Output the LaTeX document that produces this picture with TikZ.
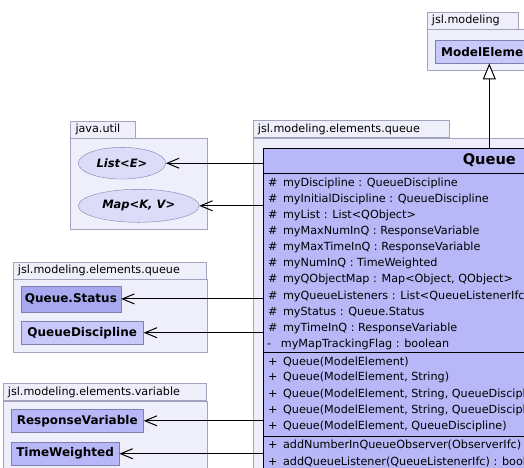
\documentclass[tikz,border=0pt]{standalone}
\usepackage{fontspec}
\setmainfont{DejaVu Sans}
\usetikzlibrary{arrows.meta,positioning,shapes.geometric}

\definecolor{pkgfill}{HTML}{EFEFFB}
\definecolor{pkgline}{HTML}{A3A3BE}
\definecolor{clsfill}{HTML}{C8C8FA}
\definecolor{clsmid}{HTML}{B8B8F8}
\definecolor{clsdark}{HTML}{A8A8F0}
\definecolor{clsline}{HTML}{8080B0}
\definecolor{ifcfill}{HTML}{DCDCF8}

\begin{document}
\begin{tikzpicture}[x=1pt,y=-1pt,
    pkg/.style={draw=pkgline,fill=pkgfill},
    pkgtab/.style={pkg,anchor=south west,inner xsep=5pt,inner ysep=0pt,minimum height=17pt,font=\fontsize{11.2}{13}\selectfont},
    cls/.style={draw=clsline,fill=clsfill,anchor=west,minimum height=23pt,inner xsep=2pt,font=\fontsize{12}{14}\selectfont\bfseries},
    ifc/.style={ellipse,draw=clsline,fill=ifcfill,inner sep=0pt,font=\fontsize{11.5}{13}\selectfont\bfseries\itshape},
    row/.style={anchor=west,inner sep=0pt,font=\fontsize{11.2}{13}\selectfont},
    dep/.style={-{Straight Barb[length=12pt,width=10pt]},line width=1pt},
    gen/.style={-{Triangle[length=16pt,width=13pt,fill=white]},line width=1pt}]
                            % \draw[help lines] (0,0) grid (524,467);
                            \useasboundingbox (0,0) rectangle (524,467);
                            \clip (0,0) rectangle (524,467);

                            % packages
                            \node[pkgtab,text width=81.3pt]  (pmodeling) at (426.7,29)   {jsl.modeling};
                            \draw[pkg] (426.7,29) rectangle (540,70);
                            \node[pkgtab,text width=186.3pt] (pqueue)    at (252.7,137.7) {jsl.modeling.elements.queue};
                            \draw[pkg] (252.7,137.7) rectangle (540,480);
                            \node[pkgtab,text width=54.7pt]  (putil)     at (70.3,138.3)  {java.util};
                            \draw[pkg] (70.3,138.3) rectangle (206.7,229.3);
                            \node[pkgtab,text width=183pt]   (pqueuetwo) at (12.7,279.3)  {jsl.modeling.elements.queue};
                            \draw[pkg] (12.7,279.3) rectangle (206.7,351.7);
                            \node[pkgtab,text width=193pt]   (pvariable) at (2.7,400.7)   {jsl.modeling.elements.variable};
                            \draw[pkg] (2.7,400.7) rectangle (206.7,480);

                            % the Queue class
                            \node[draw,fill=clsmid,line width=1pt,anchor=north west,minimum width=452pt,minimum height=330pt] (queue) at (263.3,147.7) {};
                            \node[font=\fontsize{14.6}{16}\selectfont\bfseries] (qname) at (489.3,160.5) {Queue};
                            \draw[line width=1pt] (263.3,173.3) -- +(452,0);
                            \draw[line width=1pt] (263.3,352.3) -- +(452,0);
                            \draw[line width=1pt] (263.3,436.7) -- +(452,0);

                            \node[row] (a1)  at (268,183.3) {\#\hspace{5.5pt}myDiscipline : QueueDiscipline};
                            \node[row] (a2)  at (268,199.4) {\#\hspace{5.5pt}myInitialDiscipline : QueueDiscipline};
                            \node[row] (a3)  at (268,215.5) {\#\hspace{5.5pt}myList : List<QObject>};
                            \node[row] (a4)  at (268,231.6) {\#\hspace{5.5pt}myMaxNumInQ : ResponseVariable};
                            \node[row] (a5)  at (268,247.7) {\#\hspace{5.5pt}myMaxTimeInQ : ResponseVariable};
                            \node[row] (a6)  at (268,263.8) {\#\hspace{5.5pt}myNumInQ : TimeWeighted};
                            \node[row] (a7)  at (268,279.9) {\#\hspace{5.5pt}myQObjectMap : Map<Object, QObject>};
                            \node[row] (a8)  at (268,296.0) {\#\hspace{5.5pt}myQueueListeners : List<QueueListenerIfc>};
                            \node[row] (a9)  at (268,312.1) {\#\hspace{5.5pt}myStatus : Queue.Status};
                            \node[row] (a10) at (268,328.2) {\#\hspace{5.5pt}myTimeInQ : ResponseVariable};
                            \node[row] (a11) at (267,344.3) {-\hspace{9.7pt}myMapTrackingFlag : boolean};
                            \node[row] (c1)  at (268,361.7) {+\hspace{5.5pt}Queue(ModelElement)};
                            \node[row] (c2)  at (268,377.8) {+\hspace{5.5pt}Queue(ModelElement, String)};
                            \node[row] (c3)  at (268,393.9) {+\hspace{5.5pt}Queue(ModelElement, String, QueueDiscipline)};
                            \node[row] (c4)  at (268,410.0) {+\hspace{5.5pt}Queue(ModelElement, String, QueueDiscipline)};
                            \node[row] (c5)  at (268,426.1) {+\hspace{5.5pt}Queue(ModelElement, QueueDiscipline)};
                            \node[row] (m1)  at (268,445.0) {+\hspace{5.5pt}addNumberInQueueObserver(ObserverIfc)};
                            \node[row] (m2)  at (268,461.7) {+\hspace{5.5pt}addQueueListener(QueueListenerIfc) : boolean};

                            % other classes
                            \node[cls,anchor=center,minimum width=108.6pt] (model) at (489.3,51.7) {ModelElement};
                            \node[ifc,minimum width=87.4pt,minimum height=31.7pt] (list) at (122,163.2) {List<E>};
                            \node[ifc,minimum width=120.7pt,minimum height=33pt] (map) at (138.7,205.8) {Map<K, V>};
                            \node[cls,fill=clsdark,minimum width=100pt,minimum height=25.7pt] (status) at (20.7,298.9) {Queue.Status};
                            \node[cls,minimum width=122.6pt] (discipline) at (20.7,332.7) {QueueDiscipline};
                            \node[cls,fill=clsmid,minimum width=132.6pt] (response) at (10.7,420.8) {ResponseVariable};
                            \node[cls,fill=clsmid,minimum width=108.3pt] (weighted) at (10.7,453.7) {TimeWeighted};

                            \draw[gen] (queue.north -| model) -- (model.south);
                            \draw[dep] (queue.west |- list)       -- (list.east);
                            \draw[dep] (queue.west |- map)        -- (map.east);
                            \draw[dep] (queue.west |- status)     -- (status.east);
                            \draw[dep] (queue.west |- discipline) -- (discipline.east);
                            \draw[dep] (queue.west |- response)   -- (response.east);
                            \draw[dep] (queue.west |- weighted)   -- (weighted.east);
                        \end{tikzpicture}
\end{document}
